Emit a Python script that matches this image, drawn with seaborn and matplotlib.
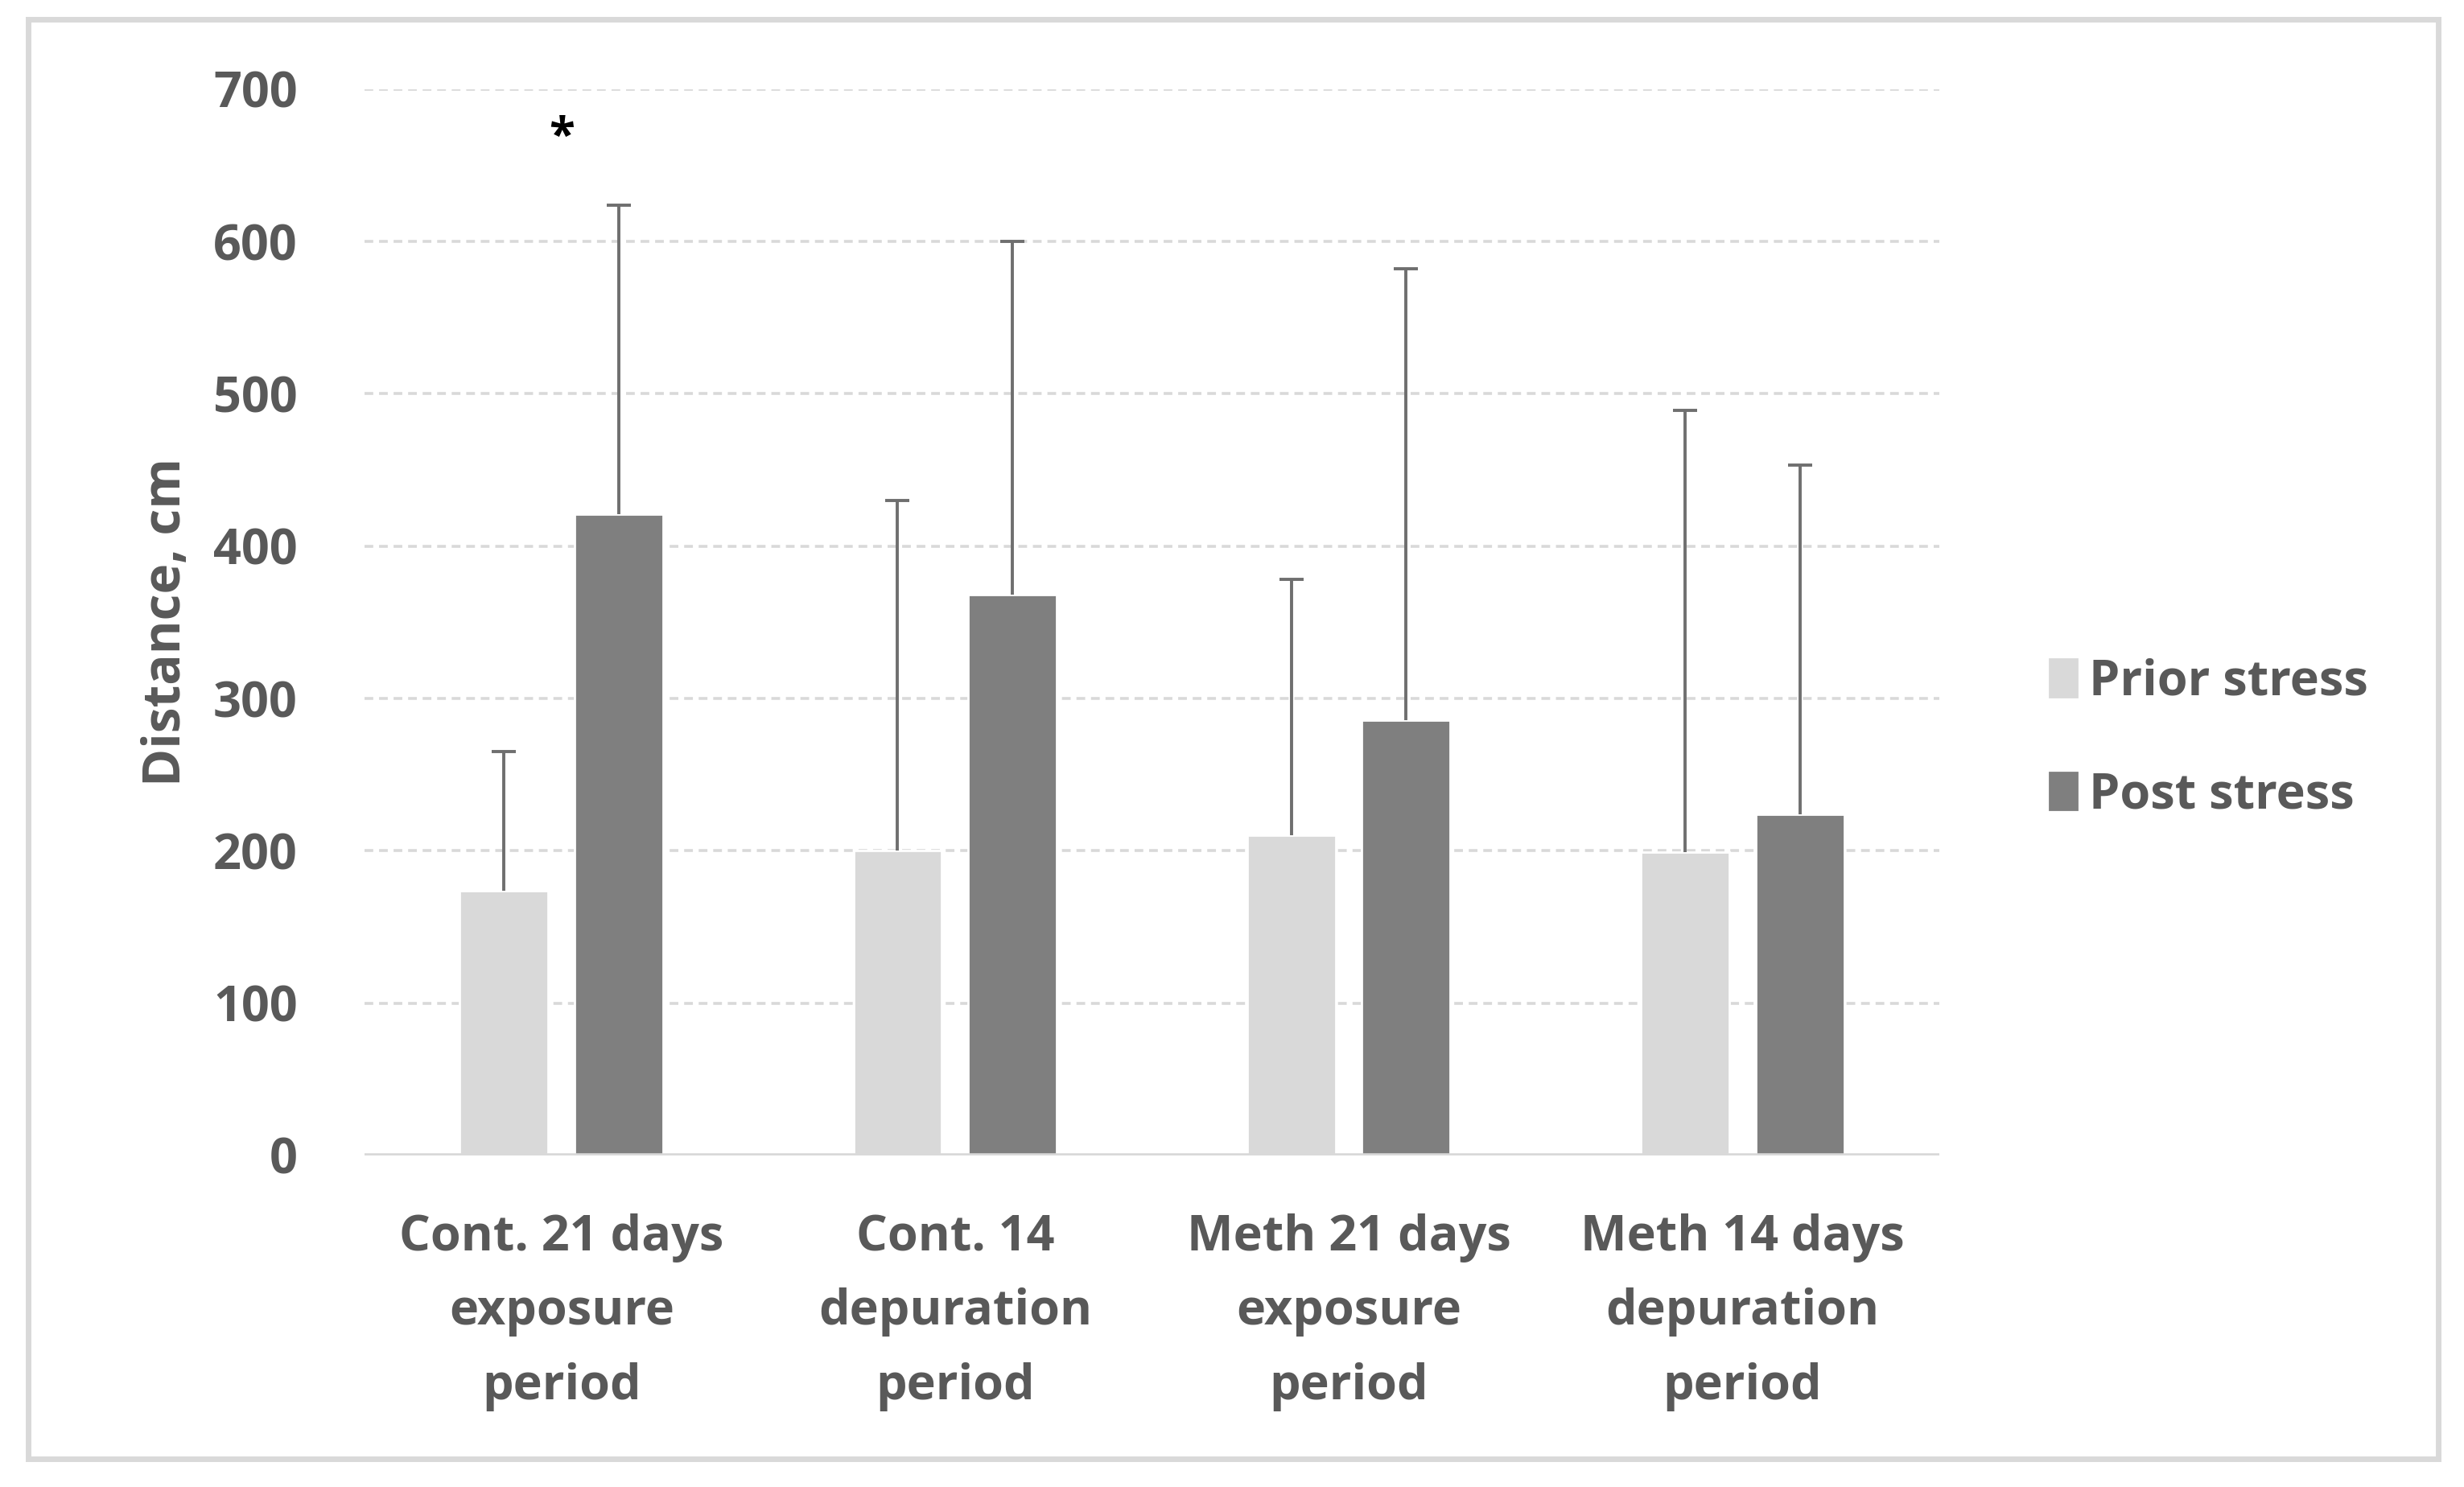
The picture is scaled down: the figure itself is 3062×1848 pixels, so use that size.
import pandas as pd
import seaborn as sns
import matplotlib.pyplot as plt
from matplotlib.patches import Rectangle

groups = ["Cont. 21 days\nexposure\nperiod", "Cont. 14\ndepuration\nperiod",
          "Meth 21 days\nexposure\nperiod", "Meth 14 days\ndepuration\nperiod"]
conditions = ["Prior stress", "Post stress"]
prior_mean = [174, 200, 210, 199]
post_mean = [421, 368, 286, 224]
prior_err = [91, 230, 168, 290]
post_err = [203, 232, 296, 229]
star_group = 0
star_y = 668

df = pd.DataFrame({
    "group": groups * 2,
    "condition": [conditions[0]] * 4 + [conditions[1]] * 4,
    "value": prior_mean + post_mean,
})

sns.set_style("white")
plt.rcParams["font.family"] = ["Open Sans", "DejaVu Sans"]
txt = "#595959"

fig = plt.figure(figsize=(15.31, 9.24), dpi=200)
ax = fig.add_axes([0.148, 0.223, 0.639, 0.717])

sns.barplot(data=df, x="group", y="value", hue="condition", order=groups,
            hue_order=conditions, palette=["#d9d9d9", "#7f7f7f"],
            width=0.584, gap=0.23, errorbar=None, saturation=1, ax=ax)

for cont, errs in zip(ax.containers, [prior_err, post_err]):
    xs = [b.get_x() + b.get_width() / 2 for b in cont]
    ys = [b.get_height() for b in cont]
    _, caps, _ = ax.errorbar(xs, ys, yerr=[[0] * len(errs), errs], fmt="none",
                             ecolor="#6f6f6f", elinewidth=1.4, capsize=5.5,
                             capthick=1.4, zorder=3)
    caps[0].set_visible(False)

ax.text(star_group, star_y, "*", ha="center", va="center", fontsize=21,
        fontweight="bold", color="black")

ax.set_ylim(0, 700)
ax.set_yticks(range(0, 701, 100))
ax.set_xlim(-0.5, 3.5)
for y in range(100, 701, 100):
    ax.axhline(y, color="#d9d9d9", lw=1.3, ls=(0, (3, 2)), zorder=0)
ax.axhline(0, color="#d9d9d9", lw=2, zorder=1)
sns.despine(ax=ax, left=True, bottom=True)
ax.tick_params(axis="both", length=0, labelsize=22, labelcolor=txt)
ax.tick_params(axis="x", pad=26)
ax.tick_params(axis="y", pad=30)
for lab in ax.get_xticklabels():
    lab.set_fontweight("bold")
    lab.set_linespacing(1.68)
for lab in ax.get_yticklabels():
    lab.set_fontweight("bold")
ax.set_xlabel("")
ax.set_ylabel("Distance, cm", fontsize=23, fontweight="bold", color=txt, labelpad=9)

ax.legend_.remove()
handles = [Rectangle((0, 0), 1, 1, color=c) for c in ["#d9d9d9", "#7f7f7f"]]
leg = fig.legend(handles, conditions, loc="center left", bbox_to_anchor=(0.814, 0.503),
                 frameon=False, fontsize=22, handlelength=0.55, handleheight=0.8,
                 handletextpad=0.25, labelspacing=1.3)
for t in leg.get_texts():
    t.set_color(txt)
    t.set_fontweight("bold")

fig.patches.append(Rectangle((0.0115, 0.019), 0.978, 0.968, transform=fig.transFigure,
                             fill=False, edgecolor="#d9d9d9", lw=2.5))

fig.savefig("out.png", dpi=200, facecolor="white")
